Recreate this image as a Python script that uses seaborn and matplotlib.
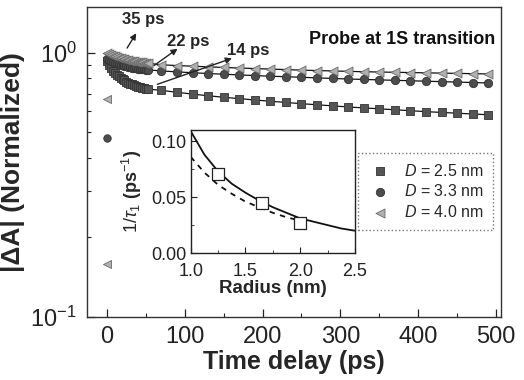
import matplotlib
matplotlib.use("Agg")
import matplotlib.pyplot as plt
import matplotlib.ticker as mticker
import pandas as pd
import seaborn as sns

# time axis (ps): dense early part, then every 20 ps
t_early = [0, 2.5, 5, 7.5, 10, 12.5, 15, 17.5, 20, 22.5, 25, 27.5, 30, 32.5, 35,
           37.5, 40, 42.5, 45, 47.5, 50, 52.5]
t_late = [70, 90, 110, 130, 150, 170, 190, 210, 230, 250, 270, 290, 310, 330, 350,
          370, 390, 410, 430, 450, 470, 490]

# |dA| normalized
sq_early = [0.93, 0.90, 0.875, 0.855, 0.84, 0.825, 0.815, 0.805, 0.795, 0.785, 0.777,
            0.77, 0.764, 0.758, 0.753, 0.748, 0.744, 0.74, 0.737, 0.734, 0.731, 0.728]
sq_late = [0.72, 0.708, 0.697, 0.687, 0.678, 0.670, 0.662, 0.655, 0.648, 0.641, 0.635,
           0.629, 0.623, 0.618, 0.613, 0.608, 0.603, 0.598, 0.594, 0.590, 0.586, 0.582]
ci_early = [0.95, 0.94, 0.932, 0.925, 0.918, 0.912, 0.906, 0.901, 0.896, 0.892, 0.888,
            0.884, 0.881, 0.878, 0.875, 0.873, 0.871, 0.869, 0.867, 0.865, 0.863, 0.861]
ci_late = [0.853, 0.846, 0.84, 0.834, 0.829, 0.824, 0.819, 0.815, 0.811, 0.807, 0.803,
           0.799, 0.795, 0.792, 0.789, 0.786, 0.783, 0.78, 0.777, 0.774, 0.771, 0.768]
tr_early = [1.0, 0.99, 0.982, 0.975, 0.968, 0.962, 0.957, 0.952, 0.948, 0.944, 0.94,
            0.937, 0.934, 0.931, 0.928, 0.925, 0.923, 0.921, 0.919, 0.917, 0.915, 0.913]
tr_late = [0.900, 0.894, 0.889, 0.884, 0.879, 0.875, 0.871, 0.867, 0.863, 0.859, 0.856,
           0.853, 0.85, 0.847, 0.845, 0.843, 0.841, 0.839, 0.837, 0.835, 0.833, 0.831]

# rising-edge points near t = 0
rise_t = [0, 0, 0]
rise_val = [0.667, 0.159, 0.475]
rise_kind = ["tr", "tr", "ci"]

labels = ["$D$ = 2.5 nm", "$D$ = 3.3 nm", "$D$ = 4.0 nm"]

# inset: 1/tau1 vs radius
r_fit = [1.0, 1.125, 1.25, 1.375, 1.5, 1.625, 1.75, 1.875, 2.0, 2.125, 2.25, 2.375, 2.5]
rate_solid = [0.109, 0.088, 0.073, 0.062, 0.054, 0.047, 0.041, 0.036, 0.031, 0.028,
              0.025, 0.022, 0.020]
r_dash = [1.0, 1.125, 1.25, 1.375, 1.5, 1.625, 1.75, 1.875, 2.0]
rate_dash = [0.086, 0.072, 0.061, 0.053, 0.046, 0.041, 0.036, 0.032, 0.029]
r_meas = [1.25, 1.65, 2.0]
rate_meas = [0.0707, 0.0446, 0.0267]

sns.set_style("ticks")
plt.rcParams["font.family"] = ["Liberation Sans", "DejaVu Sans"]
plt.rcParams["mathtext.fontset"] = "custom"
plt.rcParams["mathtext.rm"] = "Liberation Sans"
plt.rcParams["mathtext.it"] = "Liberation Sans:italic"
plt.rcParams["mathtext.bf"] = "Liberation Sans:bold"

t_all = t_early + t_late
df = pd.DataFrame({
    "t": t_all * 3,
    "val": sq_early + sq_late + ci_early + ci_late + tr_early + tr_late,
    "series": [labels[0]] * len(t_all) + [labels[1]] * len(t_all) + [labels[2]] * len(t_all),
})

fig = plt.figure(figsize=(5.24, 3.8), dpi=100)
ax = fig.add_axes([0.1655, 0.1666, 0.79, 0.815])

style = {
    labels[0]: dict(marker="s", color="#555555", ec="#333333", s=32),
    labels[1]: dict(marker="o", color="#4d4d4d", ec="#333333", s=36),
    labels[2]: dict(marker="<", color="#b0b0b0", ec="#6a6a6a", s=42),
}

for lab in labels:
    sub = df[df["series"] == lab]
    sns.lineplot(x=sub["t"], y=sub["val"], ax=ax, color="#111111", lw=0.9,
                 estimator=None, sort=False, legend=False)
for lab in labels:
    sub = df[df["series"] == lab]
    st = style[lab]
    sns.scatterplot(x=sub["t"], y=sub["val"], ax=ax, marker=st["marker"], color=st["color"],
                    edgecolor=st["ec"], linewidth=0.6, s=st["s"], label=lab, zorder=3)

kind_style = {"tr": style[labels[2]], "ci": style[labels[1]]}
for tx, vy, k in zip(rise_t, rise_val, rise_kind):
    st = kind_style[k]
    ax.scatter([tx], [vy], marker=st["marker"], color=st["color"], edgecolor=st["ec"],
               linewidth=0.6, s=st["s"] * 0.8, zorder=3)

ax.set_yscale("log")
ax.set_xlim(-26, 506)
ax.set_ylim(0.1, 1.49)
ax.xaxis.set_major_locator(mticker.MultipleLocator(100))
ax.xaxis.set_minor_locator(mticker.MultipleLocator(50))
ax.yaxis.set_major_locator(mticker.LogLocator(base=10))
ax.yaxis.set_minor_locator(mticker.LogLocator(base=10, subs=[2, 3, 4, 5, 6, 7, 8, 9]))
ax.yaxis.set_minor_formatter(mticker.NullFormatter())
ax.tick_params(which="both", direction="in", labelsize=17, colors="#222222", pad=7)
ax.tick_params(which="major", length=6, width=0.9)
ax.tick_params(which="minor", length=3, width=0.8)
for sp in ax.spines.values():
    sp.set_color("#333333")
    sp.set_linewidth(1.0)

ax.set_xlabel("Time delay (ps)", fontsize=18, fontweight="bold", labelpad=1)
ax.set_ylabel("|ΔA| (Normalized)", fontsize=19, fontweight="bold", labelpad=4)

ax.text(0.986, 0.895, "Probe at 1S transition", transform=ax.transAxes, ha="right",
        va="center", fontsize=13, fontweight="bold", color="#111111")

arrow = dict(arrowstyle="-|>", color="#222222", lw=1.0, mutation_scale=9)
ax.annotate("", xy=(39.5, 1.21), xytext=(24, 1.02), arrowprops=arrow)
ax.annotate("", xy=(93.6, 1.05), xytext=(57.5, 0.881), arrowprops=arrow)
ax.annotate("", xy=(164, 0.96), xytext=(61.4, 0.753), arrowprops=arrow)
ax.text(47, 1.34, "35 ps", ha="center", va="center", fontsize=12, fontweight="bold")
ax.text(104, 1.105, "22 ps", ha="center", va="center", fontsize=12, fontweight="bold")
ax.text(181, 1.02, "14 ps", ha="center", va="center", fontsize=12, fontweight="bold")

leg = ax.legend(loc="upper left", bbox_to_anchor=(0.655, 0.5286), borderaxespad=0,
                fontsize=11.5, frameon=True, fancybox=False, handlelength=1.6,
                handletextpad=0.7, labelspacing=0.3, borderpad=0.6, scatterpoints=1)
leg.get_frame().set_edgecolor("#555555")
leg.get_frame().set_linestyle(":")
leg.get_frame().set_linewidth(1.0)

# inset
axi = fig.add_axes([0.364, 0.334, 0.3135, 0.3237])
sns.lineplot(x=r_fit, y=rate_solid, ax=axi, color="#111111", lw=1.3)
sns.lineplot(x=r_dash, y=rate_dash, ax=axi, color="#111111", lw=1.3, linestyle=(0, (3, 3)))
sns.scatterplot(x=r_meas, y=rate_meas, ax=axi, marker="s", s=70, facecolor="white",
                edgecolor="#222222", linewidth=0.9, zorder=4)
axi.set_xlim(1.0, 2.5)
axi.set_ylim(0, 0.11)
axi.xaxis.set_major_locator(mticker.MultipleLocator(0.5))
axi.xaxis.set_minor_locator(mticker.MultipleLocator(0.25))
axi.yaxis.set_major_locator(mticker.MultipleLocator(0.05))
axi.yaxis.set_minor_locator(mticker.MultipleLocator(0.025))
axi.xaxis.set_major_formatter(mticker.FormatStrFormatter("%.1f"))
axi.yaxis.set_major_formatter(mticker.FormatStrFormatter("%.2f"))
axi.tick_params(which="both", direction="in", labelsize=13, colors="#222222")
axi.tick_params(axis="x", pad=7)
axi.tick_params(axis="y", pad=3)
axi.tick_params(which="major", length=4)
axi.tick_params(which="minor", length=2)
for sp in axi.spines.values():
    sp.set_color("#222222")
    sp.set_linewidth(1.0)
axi.set_xlabel("Radius (nm)", fontsize=13.5, fontweight="bold", labelpad=0)
axi.set_ylabel(r"$1/\tau_1$ (ps$^{-1}$)", fontsize=13, fontweight="bold", labelpad=5)

fig.savefig("out.png", dpi=100)
